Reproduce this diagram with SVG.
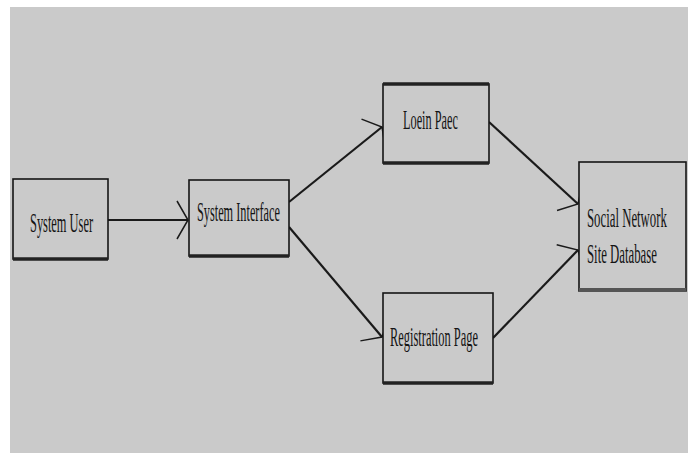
<svg xmlns="http://www.w3.org/2000/svg" width="688" height="453" viewBox="0 0 688 453">
<style>
.box{fill:#cacaca;stroke:#151515;stroke-width:1.6}
.base{stroke:#222;stroke-width:3.5}
.lbl{font-family:"Liberation Serif","Times New Roman",serif;font-size:28px;fill:#141414}
.conn{stroke:#1a1a1a;stroke-width:2.2;fill:none}
</style>
<defs>
<marker id="arr" markerUnits="userSpaceOnUse" markerWidth="30" markerHeight="50" viewBox="-15 -25 30 50" refX="0" refY="0" orient="auto">
<path d="M-11,-19 L0,0 L-11,19" fill="none" stroke="#1a1a1a" stroke-width="1.5"/>
</marker>
</defs>
<rect x="0" y="0" width="688" height="453" fill="#ffffff"/>
<rect x="10" y="7" width="678" height="446" fill="#cacaca"/>
<g id="connectors">
<line class="conn" x1="108" y1="220" x2="188" y2="220" stroke="#333" stroke-width="3.2" marker-end="url(#arr)"/>
<line class="conn" x1="289" y1="202" x2="382" y2="127" marker-end="url(#arr)"/>
<line class="conn" x1="289" y1="227" x2="382" y2="337" marker-end="url(#arr)"/>
<line class="conn" x1="489" y1="122" x2="578" y2="204" marker-end="url(#arr)"/>
<line class="conn" x1="493" y1="338" x2="578" y2="250" marker-end="url(#arr)"/>
</g>
<g id="system-user">
<rect class="box" x="13" y="179" width="95" height="80"/>
<line class="base" x1="13" y1="259" x2="108" y2="259"/>
<text class="lbl" transform="translate(30,232) scale(0.443,1)">System User</text>
</g>
<g id="system-interface">
<rect class="box" x="189" y="180" width="100" height="76"/>
<line class="base" x1="189" y1="256" x2="289" y2="256"/>
<text class="lbl" transform="translate(197,221) scale(0.439,1)">System Interface</text>
</g>
<g id="login-page">
<rect class="box" x="383" y="84" width="106" height="79"/>
<line class="base" x1="383" y1="84" x2="489" y2="84"/>
<line class="base" x1="383" y1="163" x2="489" y2="163"/>
<text class="lbl" transform="translate(403,129) scale(0.439,1)">Loein Paec</text>
</g>
<g id="registration-page">
<rect class="box" x="383" y="293" width="110" height="90"/>
<line class="base" x1="383" y1="383" x2="493" y2="383"/>
<text class="lbl" transform="translate(390,346) scale(0.444,1)">Registration Page</text>
</g>
<g id="social-network-db">
<rect class="box" x="579" y="162" width="107" height="129"/>
<line x1="579" y1="290" x2="686" y2="290" stroke="#555" stroke-width="4"/>
<text class="lbl" transform="translate(587,227) scale(0.457,1)">Social Network</text>
<text class="lbl" transform="translate(587,263) scale(0.457,1)">Site Database</text>
</g>
</svg>
